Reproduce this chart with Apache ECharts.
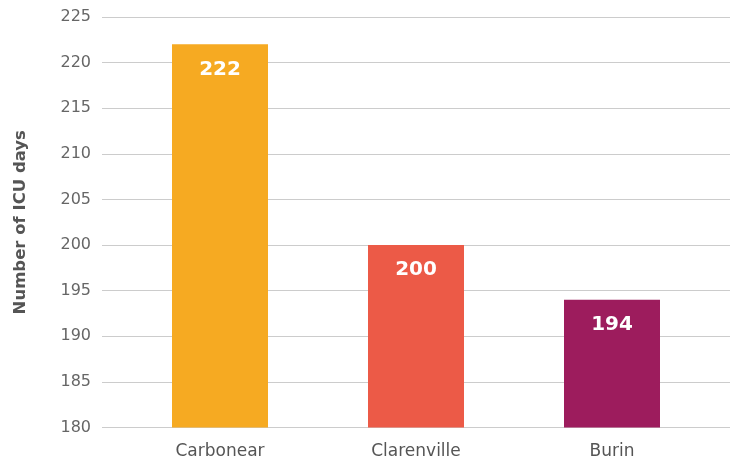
<!DOCTYPE html>
<html><head><meta charset="utf-8">
<script src="https://cdn.jsdelivr.net/npm/echarts@6/dist/echarts.min.js"></script>
<style>html,body{margin:0;padding:0;background:#fff}#c{width:737px;height:464px}</style>
</head><body><div id="c"></div>
<script>
const categories = ['Carbonear', 'Clarenville', 'Burin'];
const values = [222, 200, 194];
const colors = ['#F6AA22', '#EC5A47', '#9D1C5D'];
const yMin = 180, yMax = 225, yStep = 5;
const FONT = 'DejaVu Sans';
const chart = echarts.init(document.getElementById('c'));
chart.setOption({
  animation: false,
  grid: [
    {left: 102, right: 7, top: 17, bottom: 36.5},
    {left: 122, right: 27, top: 17, bottom: 36.5}
  ],
  xAxis: [
    {gridIndex: 0, type: 'value', show: false, min: 0, max: 1},
    {gridIndex: 1, type: 'category', data: categories,
     axisLine: {show: false}, axisTick: {show: false},
     axisLabel: {color: '#555', fontFamily: FONT, fontSize: 17, margin: 16}}
  ],
  yAxis: [
    {gridIndex: 0, type: 'value', min: yMin, max: yMax, interval: yStep,
     name: 'Number of ICU days', nameLocation: 'middle', nameGap: 73,
     nameTextStyle: {color: '#555', fontFamily: FONT, fontSize: 16.5, fontWeight: 'bold'},
     axisLine: {show: false}, axisTick: {show: false},
     axisLabel: {color: '#666', fontFamily: FONT, fontSize: 16, margin: 11},
     splitLine: {lineStyle: {color: '#cccccc', width: 1}}},
    {gridIndex: 1, type: 'value', min: yMin, max: yMax, interval: yStep, show: false,
     splitLine: {show: false}}
  ],
  series: [{
    type: 'bar', xAxisIndex: 1, yAxisIndex: 1, barWidth: 96,
    data: values.map((v, i) => ({value: v, itemStyle: {color: colors[i]}})),
    label: {show: true, position: 'insideTop', distance: 15, color: '#fff',
            fontFamily: FONT, fontSize: 20, fontWeight: 'bold'}
  }]
});
</script></body></html>
